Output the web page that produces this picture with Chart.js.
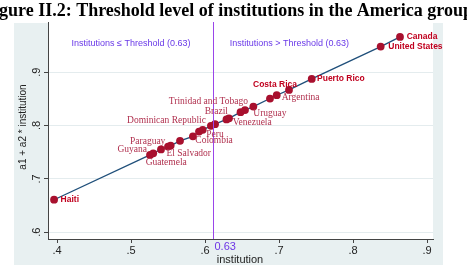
<!DOCTYPE html>
<html lang="en">
<head>
    <meta charset="UTF-8">
    <title>Threshold level of institutions in the America group</title>
    <style>
        html, body { margin: 0; padding: 0; background: #fff; }
        #chart { display: block; }
    </style>
</head>
<body>
<canvas id="chart" width="467" height="265"></canvas>

<script src="https://cdn.jsdelivr.net/npm/chart.js@4.4.1/dist/chart.umd.min.js"></script>
<script>
  // institution score and fitted value a1 + a2 * institution
  const institution = [0.396, 0.5257, 0.530, 0.5405, 0.550, 0.5536, 0.5662, 0.5837, 0.5919, 0.5969, 0.608, 0.6135,
    0.629, 0.6324, 0.648, 0.654, 0.6653, 0.6878, 0.6969, 0.7135, 0.7442, 0.8374, 0.8635];
  const fitted = [0.661, 0.745, 0.748, 0.7553, 0.7605, 0.7625, 0.7713, 0.7797, 0.7887, 0.7919, 0.7995, 0.8026,
    0.8115, 0.8135, 0.8251, 0.8289, 0.8356, 0.8506, 0.8568, 0.8668, 0.8874, 0.948, 0.966];
  const countries = ['Haiti', 'Guyana', 'Guatemela', 'Paraguay', 'El Salvador', '', '', 'Colombia', '', '',
    'Dominican Republic', 'Peru', 'Brazil', 'Venezuela', '', 'Trinidad and Tobago', 'Uruguay', '', 'Argentina',
    'Costa Rica', 'Puerto Rico', 'United States', 'Canada'];

  const xTicks = [0.4, 0.5, 0.6, 0.7, 0.8, 0.9];
  const yTicks = [0.6, 0.7, 0.8, 0.9];
  const thresholdAt = 0.611;
  const thresholdText = '0.63';
  const regionText = ['Institutions \u2264 Threshold (0.63)', 'Institutions > Threshold (0.63)'];
  const regionX = [0.5, 0.714];
  const regionY = 0.954;

  // label placement: [dx, dy, align, bold sans?]
  const labelPlace = [
    [6.5, 0, 'left', true], [-3, -5, 'right'], [13, 9.4, 'center'], [-13.3, -8.2, 'center'], [-1.6, 7.3, 'left'],
    null, null, [2.4, 4.3, 'left'], null, null, [-5, -5.3, 'right'], [0, 10, 'center'],
    [1.5, -7.9, 'right'], [3.7, 3.8, 'left'], null, [3, -8.6, 'right'], [0, 7, 'left'], null, [5, 2, 'left'],
    [-14, -5, 'center', true], [5.3, 0, 'left', true], [7.6, 0, 'left', true], [6.7, 0, 'left', true]
  ];

  const purple = '#9a45ea';
  const fmt = v => v.toFixed(1).replace(/^0/, '');

  const extras = {
    id: 'extras',
    beforeDraw(chart) {
      const ctx = chart.ctx, a = chart.chartArea;
      ctx.save();
      ctx.fillStyle = '#e8f0f1';
      ctx.fillRect(14, 23, 429, 242);
      ctx.fillStyle = '#ffffff';
      ctx.fillRect(a.left, a.top, a.right - a.left, a.bottom - a.top);
      ctx.restore();
    },
    afterDatasetsDraw(chart) {
      const ctx = chart.ctx, a = chart.chartArea;
      const xs = chart.scales.x, ys = chart.scales.y;
      ctx.save();

      // threshold line
      const tx = Math.round(xs.getPixelForValue(thresholdAt)) + 0.5;
      ctx.strokeStyle = purple;
      ctx.lineWidth = 1;
      ctx.beginPath();
      ctx.moveTo(tx, a.top);
      ctx.lineTo(tx, a.bottom);
      ctx.stroke();
      ctx.fillStyle = '#6e35e6';
      ctx.font = '11px "Liberation Sans", Arial, sans-serif';
      ctx.textAlign = 'left';
      ctx.textBaseline = 'middle';
      ctx.fillText(thresholdText, tx + 1, 247);

      // region captions
      ctx.font = '9px "Liberation Sans", Arial, sans-serif';
      ctx.fillStyle = '#6a3ae8';
      ctx.textAlign = 'center';
      regionText.forEach((t, i) => {
        ctx.fillText(t, xs.getPixelForValue(regionX[i]), ys.getPixelForValue(regionY));
      });

      // country labels
      countries.forEach((name, i) => {
        const p = labelPlace[i];
        if (!name || !p) return;
        const px = xs.getPixelForValue(institution[i]);
        const py = ys.getPixelForValue(fitted[i]);
        ctx.textAlign = p[2];
        ctx.textBaseline = 'middle';
        if (p[3]) {
          ctx.font = 'bold 8.5px "Liberation Sans", Arial, sans-serif';
          ctx.fillStyle = '#c0001e';
        } else {
          ctx.font = '9.5px "Liberation Serif", "Times New Roman", serif';
          ctx.fillStyle = '#b0304e';
        }
        ctx.fillText(name, px + p[0], py + p[1]);
      });

      // rotated y tick labels
      ctx.fillStyle = '#222';
      ctx.font = '11px "Liberation Sans", Arial, sans-serif';
      ctx.textAlign = 'center';
      ctx.textBaseline = 'middle';
      yTicks.forEach(v => {
        ctx.save();
        ctx.translate(37, ys.getPixelForValue(v));
        ctx.rotate(-Math.PI / 2);
        ctx.fillText(fmt(v), 0, 0);
        ctx.restore();
      });

      // axis titles
      ctx.font = '10px "Liberation Sans", Arial, sans-serif';
      ctx.save();
      ctx.translate(23, 127);
      ctx.rotate(-Math.PI / 2);
      ctx.fillText('a1 + a2 * institution', 0, 0);
      ctx.restore();
      ctx.font = '11px "Liberation Sans", Arial, sans-serif';
      ctx.fillText('institution', 240, 260);

      // figure title
      ctx.fillStyle = '#000';
      ctx.font = 'bold 18px "Liberation Serif", "Times New Roman", serif';
      ctx.textAlign = 'left';
      ctx.textBaseline = 'alphabetic';
      ctx.fillText('Figure II.2: Threshold level of institutions in the America group', -17, 16);
      ctx.restore();
    }
  };

  new Chart(document.getElementById('chart'), {
    type: 'scatter',
    data: {
      datasets: [{
        data: institution.map((v, i) => ({ x: v, y: fitted[i] })),
        showLine: true,
        borderColor: '#1f4f7a',
        borderWidth: 1.3,
        pointRadius: 3.9,
        pointBackgroundColor: '#a8102e',
        pointBorderWidth: 0
      }]
    },
    options: {
      responsive: false,
      animation: false,
      layout: { padding: { top: 22, right: 34, left: 0, bottom: 0 } },
      plugins: { legend: { display: false }, title: { display: false }, tooltip: { enabled: false } },
      scales: {
        x: {
          type: 'linear',
          min: 0.3878,
          max: 0.9081,
          afterFit(s) { s.height = 26; },
          afterBuildTicks(s) { s.ticks = xTicks.map(v => ({ value: v })); },
          ticks: {
            callback: v => fmt(v),
            font: { family: '"Liberation Sans", Arial, sans-serif', size: 11 },
            color: '#222',
            padding: 1,
            maxRotation: 0
          },
          grid: { drawOnChartArea: false, drawTicks: true, tickLength: 4, tickColor: '#444' },
          border: { display: true, color: '#444', width: 1 }
        },
        y: {
          type: 'linear',
          min: 0.5874,
          max: 0.994,
          afterFit(s) { s.width = 48; },
          afterBuildTicks(s) { s.ticks = yTicks.map(v => ({ value: v })); },
          ticks: { display: false },
          grid: { color: '#e4ecee', tickLength: 4, tickColor: '#444', drawTicks: true },
          border: { display: true, color: '#444', width: 1 }
        }
      }
    },
    plugins: [extras]
  });
</script>
</body>
</html>
